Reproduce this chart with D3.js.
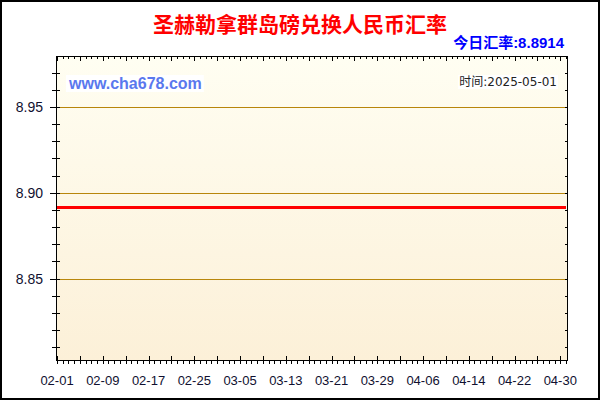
<!DOCTYPE html>
<html>
<head>
<meta charset="utf-8">
<script src="https://cdn.jsdelivr.net/npm/d3@7"></script>
<style>
  html, body { margin: 0; padding: 0; background: #fff; }
  svg { display: block; }
</style>
</head>
<body>
<div class="container"></div>
<script>
// chart data
var title = "圣赫勒拿群岛磅兑换人民币汇率";
var todayRate = "今日汇率:8.8914";
var siteText = "www.cha678.com";
var timeText = "时间:2025-05-01";
var startDate = "2025-02-01";
var endDate = "2025-05-01";
var xTickLabels = ["02-01", "02-09", "02-17", "02-25", "03-05", "03-13", "03-21", "03-29", "04-06", "04-14", "04-22", "04-30"];
var yTickValues = [8.85, 8.90, 8.95];
var rateValues = [
  8.8914, 8.8914, 8.8914, 8.8914, 8.8914, 8.8914, 8.8914, 8.8914, 8.8914, 8.8914,
  8.8914, 8.8914, 8.8914, 8.8914, 8.8914, 8.8914, 8.8914, 8.8914, 8.8914, 8.8914,
  8.8914, 8.8914, 8.8914, 8.8914, 8.8914, 8.8914, 8.8914, 8.8914, 8.8914, 8.8914,
  8.8914, 8.8914, 8.8914, 8.8914, 8.8914, 8.8914, 8.8914, 8.8914, 8.8914, 8.8914,
  8.8914, 8.8914, 8.8914, 8.8914, 8.8914, 8.8914, 8.8914, 8.8914, 8.8914, 8.8914,
  8.8914, 8.8914, 8.8914, 8.8914, 8.8914, 8.8914, 8.8914, 8.8914, 8.8914, 8.8914,
  8.8914, 8.8914, 8.8914, 8.8914, 8.8914, 8.8914, 8.8914, 8.8914, 8.8914, 8.8914,
  8.8914, 8.8914, 8.8914, 8.8914, 8.8914, 8.8914, 8.8914, 8.8914, 8.8914, 8.8914,
  8.8914, 8.8914, 8.8914, 8.8914, 8.8914, 8.8914, 8.8914, 8.8914, 8.8914, 8.8914
];

var svgWidth = 600;
var svgHeight = 400;
var plot = { left: 56, right: 568, top: 56, bottom: 360 };

var parseDate = d3.timeParse("%Y-%m-%d");
var days = d3.timeDay.range(parseDate(startDate), d3.timeDay.offset(parseDate(endDate), 1));
var data = days.map((d, i) => ({ date: d, value: rateValues[i] }));

var svg = d3.select(".container")
  .append("svg")
  .attr("width", svgWidth)
  .attr("height", svgHeight);

var defs = svg.append("defs");
var grad = defs.append("linearGradient")
  .attr("id", "bg")
  .attr("x1", 0).attr("y1", 0).attr("x2", 0).attr("y2", 1);
grad.append("stop").attr("offset", "0%").attr("stop-color", "#fffef2");
grad.append("stop").attr("offset", "100%").attr("stop-color", "#fcf0d8");

// outer frame
svg.append("rect")
  .attr("x", 1).attr("y", 1)
  .attr("width", svgWidth - 2).attr("height", svgHeight - 2)
  .attr("fill", "#fff")
  .attr("stroke", "#000")
  .attr("stroke-width", 2);

var xScale = d3.scaleTime()
  .domain([parseDate(startDate), parseDate(endDate)])
  .range([57, 566]);

var yScale = d3.scaleLinear()
  .domain([8.8025, 8.9797])
  .range([plot.bottom, plot.top]);

// plot background
svg.append("rect")
  .attr("x", plot.left).attr("y", plot.top)
  .attr("width", plot.right - plot.left)
  .attr("height", plot.bottom - plot.top)
  .attr("fill", "url(#bg)");

// grid lines
svg.append("g")
  .selectAll("line")
  .data(yTickValues)
  .enter()
  .append("line")
  .attr("x1", plot.left).attr("x2", plot.right)
  .attr("y1", d => Math.round(yScale(d)) + 0.5)
  .attr("y2", d => Math.round(yScale(d)) + 0.5)
  .attr("stroke", "#b8860b")
  .attr("stroke-width", 1);

// title texts
svg.append("text")
  .attr("x", 300).attr("y", 32)
  .attr("text-anchor", "middle")
  .attr("font-family", "'Noto Sans CJK SC', sans-serif")
  .attr("font-weight", "bold")
  .attr("font-size", "21px")
  .attr("fill", "#ff0000")
  .text(title);

svg.append("text")
  .attr("x", 564).attr("y", 48)
  .attr("text-anchor", "end")
  .attr("font-family", "'Liberation Sans', 'Noto Sans CJK SC', sans-serif")
  .attr("font-weight", "bold")
  .attr("font-size", "15px")
  .attr("fill", "#0000ff")
  .text(todayRate);

var siteBox = svg.append("rect").attr("fill", "#ffffff");
var siteLabel = svg.append("text")
  .attr("x", 69).attr("y", 89)
  .attr("font-family", "'Liberation Sans', Arial, sans-serif")
  .attr("font-weight", "bold")
  .attr("font-size", "16px")
  .attr("fill", "#5a78ee")
  .text(siteText);
var sb = siteLabel.node().getBBox();
siteBox.attr("x", sb.x - 2).attr("y", sb.y).attr("width", sb.width + 4).attr("height", sb.height);

var timeBox = svg.append("rect").attr("fill", "#ffffff");
var timeLabel = svg.append("text")
  .attr("x", 557).attr("y", 86)
  .attr("text-anchor", "end")
  .attr("font-family", "'DejaVu Sans', 'Noto Sans CJK SC', sans-serif")
  .attr("font-size", "12px")
  .attr("fill", "#222")
  .text(timeText);
var tb = timeLabel.node().getBBox();
timeBox.attr("x", tb.x - 1).attr("y", tb.y).attr("width", tb.width + 2).attr("height", tb.height);

// rate line
var line = d3.line()
  .x(d => xScale(d.date))
  .y(d => yScale(d.value));

svg.append("path")
  .datum(data)
  .attr("d", line)
  .attr("fill", "none")
  .attr("stroke", "#ff0000")
  .attr("stroke-width", 3);

// plot frame
var frame = svg.append("g").attr("stroke", "#000").attr("stroke-width", 1);
frame.append("rect")
  .attr("x", plot.left + 0.5).attr("y", plot.top + 0.5)
  .attr("width", plot.right - plot.left - 1)
  .attr("height", plot.bottom - plot.top)
  .attr("fill", "none");

// minor ticks on y (every 0.01)
var yMinor = d3.range(8.81, 8.98, 0.01).map(v => +v.toFixed(2));
frame.selectAll(".ytl")
  .data(yMinor)
  .enter()
  .append("line")
  .attr("x1", d => yTickValues.indexOf(d) >= 0 ? 50 : 52)
  .attr("x2", 60)
  .attr("y1", d => Math.round(yScale(d)) + 0.5)
  .attr("y2", d => Math.round(yScale(d)) + 0.5);
frame.selectAll(".ytr")
  .data(yMinor)
  .enter()
  .append("line")
  .attr("x1", plot.right - 3)
  .attr("x2", plot.right)
  .attr("y1", d => Math.round(yScale(d)) + 0.5)
  .attr("y2", d => Math.round(yScale(d)) + 0.5);

// x ticks each day
frame.selectAll(".xtb")
  .data(days)
  .enter()
  .append("line")
  .attr("x1", d => Math.round(xScale(d)) + 0.5)
  .attr("x2", d => Math.round(xScale(d)) + 0.5)
  .attr("y1", (d, i) => i % 4 === 0 ? plot.bottom - 4 : plot.bottom)
  .attr("y2", plot.bottom + 4);
frame.selectAll(".xtt")
  .data(days)
  .enter()
  .append("line")
  .attr("x1", d => Math.round(xScale(d)) + 0.5)
  .attr("x2", d => Math.round(xScale(d)) + 0.5)
  .attr("y1", plot.top)
  .attr("y2", (d, i) => i % 4 === 0 ? plot.top + 5 : plot.top + 3);

// y labels
svg.append("g")
  .selectAll("text")
  .data(yTickValues)
  .enter()
  .append("text")
  .attr("x", 43)
  .attr("y", d => yScale(d) + 5)
  .attr("text-anchor", "end")
  .attr("font-family", "'Liberation Sans', Arial, sans-serif")
  .attr("font-size", "14px")
  .attr("fill", "#101030")
  .text(d => d.toFixed(2));

// x labels
svg.append("g")
  .selectAll("text")
  .data(xTickLabels)
  .enter()
  .append("text")
  .attr("x", d => xScale(parseDate("2025-" + d)))
  .attr("y", 385)
  .attr("text-anchor", "middle")
  .attr("font-family", "'Liberation Sans', Arial, sans-serif")
  .attr("font-size", "13px")
  .attr("fill", "#101030")
  .text(d => d);
</script>
</body>
</html>
